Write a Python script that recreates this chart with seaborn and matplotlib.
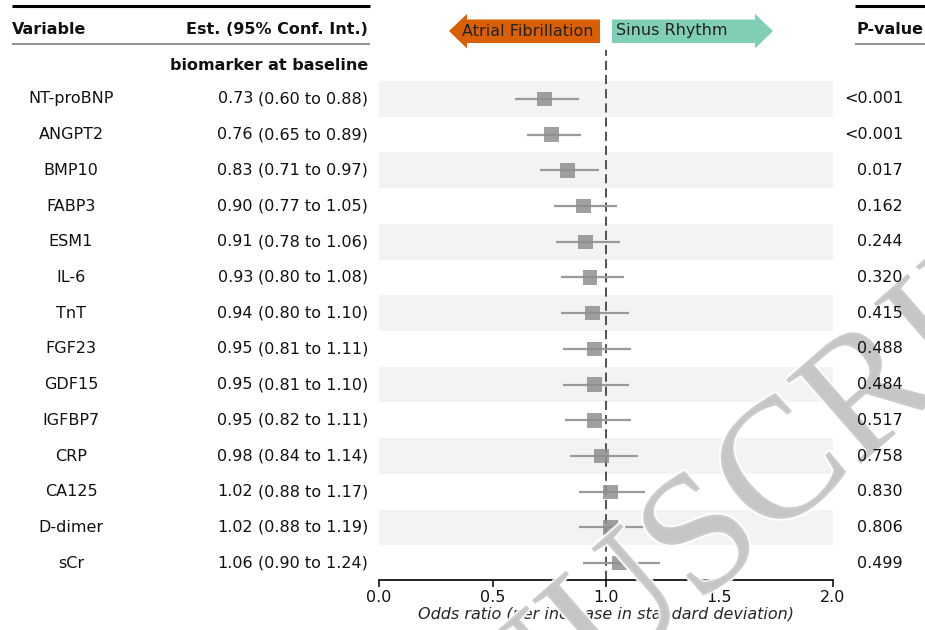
import numpy as np
import pandas as pd
import matplotlib
matplotlib.use("Agg")
import matplotlib.pyplot as plt
import matplotlib.transforms as mtransforms
import matplotlib.patheffects as pe
from matplotlib.patches import Polygon
import seaborn as sns

variables = ["NT-proBNP", "ANGPT2", "BMP10", "FABP3", "ESM1", "IL-6", "TnT",
             "FGF23", "GDF15", "IGFBP7", "CRP", "CA125", "D-dimer", "sCr"]
estimates = [0.73, 0.76, 0.83, 0.90, 0.91, 0.93, 0.94, 0.95, 0.95, 0.95, 0.98, 1.02, 1.02, 1.06]
ci_low = [0.60, 0.65, 0.71, 0.77, 0.78, 0.80, 0.80, 0.81, 0.81, 0.82, 0.84, 0.88, 0.88, 0.90]
ci_high = [0.88, 0.89, 0.97, 1.05, 1.06, 1.08, 1.10, 1.11, 1.10, 1.11, 1.14, 1.17, 1.19, 1.24]
p_values = ["<0.001", "<0.001", "0.017", "0.162", "0.244", "0.320", "0.415",
            "0.488", "0.484", "0.517", "0.758", "0.830", "0.806", "0.499"]
x_ticks = [0.0, 0.5, 1.0, 1.5, 2.0]

df = pd.DataFrame({"variable": variables, "est": estimates, "lo": ci_low,
                   "hi": ci_high, "p": p_values})
df["row"] = np.arange(len(df))

sns.set_theme(style="white")
plt.rcParams["font.family"] = ["DejaVu Sans"]
FS = 11.5

W, H = 925, 630
fig = plt.figure(figsize=(W / 100, H / 100), dpi=100)
ax = fig.add_axes([379 / W, 1 - 580 / H, (833 - 379) / W, (580 - 50) / H])

n = len(df)
ax.set_xlim(0, 2)
ax.set_ylim(13.47, -1.37)

# shaded bands
for i in range(0, n, 2):
    ax.axhspan(i - 0.5, i + 0.5, color="#f3f3f3", lw=0, zorder=0)

# reference line
ax.axvline(1.0, color="#333333", lw=1.2, ls=(0, (5.5, 3)), zorder=1)

# CI lines
ax.hlines(df["row"], df["lo"], df["hi"], color="#9a9a9a", lw=1.6, zorder=2)
sns.scatterplot(data=df, x="est", y="row", marker="s", s=110, color="#8f8f8f",
                alpha=0.85, edgecolor="none", ax=ax, zorder=3, legend=False)

ax.set_xticks(x_ticks)
ax.set_xticklabels([f"{t:.1f}" for t in x_ticks], fontsize=FS)
ax.set_yticks([])
ax.set_ylabel("")
ax.set_xlabel("Odds ratio (per increase in standard deviation)", fontsize=FS,
              style="italic", labelpad=2)
for s in ["top", "right", "left"]:
    ax.spines[s].set_visible(False)
ax.spines["bottom"].set_color("black")
ax.spines["bottom"].set_linewidth(1.2)
ax.tick_params(axis="x", direction="out", length=5, width=1.1, color="black",
               pad=2, bottom=True, labelcolor="#111111")
ax.patch.set_alpha(0)

# watermark (inside the main axes so table texts can sit above it)
ax.text(692 / W, 1 - 556 / H, "MANUSCRIPT", transform=fig.transFigure,
        fontsize=124, family="Liberation Serif", color="#c6c6c6", alpha=0.9,
        rotation=41, ha="center", va="center", rotation_mode="anchor", zorder=4,
        path_effects=[pe.withStroke(linewidth=3, foreground="white")])

# table text
tr = mtransforms.blended_transform_factory(fig.transFigure, ax.transData)
for _, r in df.iterrows():
    ax.text(71 / W, r["row"], r["variable"], transform=tr, ha="center", va="center",
            fontsize=FS, color="#111111", zorder=6)
    ax.text(253 / W, r["row"], f"{r['est']:.2f}", transform=tr, ha="right", va="center",
            fontsize=FS, color="#111111", zorder=6)
    ax.text(368 / W, r["row"], f"({r['lo']:.2f} to {r['hi']:.2f})", transform=tr,
            ha="right", va="center", fontsize=FS, color="#111111", zorder=6)
    ax.text(903 / W, r["row"], r["p"], transform=tr, ha="right", va="center",
            fontsize=FS, color="#111111", zorder=6)

# overlay axes in pixel coordinates for header decorations
ov = fig.add_axes([0, 0, 1, 1], zorder=5)
ov.set_xlim(0, W)
ov.set_ylim(H, 0)
ov.axis("off")
ov.patch.set_alpha(0)

ov.text(12, 29, "Variable", fontsize=FS, fontweight="bold", ha="left", va="center", color="#111111")
ov.text(368, 29, "Est. (95% Conf. Int.)", fontsize=FS, fontweight="bold", ha="right", va="center", color="#111111")
ov.text(368, 66, "biomarker at baseline", fontsize=FS, fontweight="bold", ha="right", va="center", color="#111111")
ov.text(857, 29, "P-value", fontsize=FS, fontweight="bold", ha="left", va="center", color="#111111")
ov.plot([12, 370], [6, 6], color="black", lw=2.2, solid_capstyle="butt")
ov.plot([12, 370], [44, 44], color="#888888", lw=1.3, solid_capstyle="butt")
ov.plot([855, 925], [6, 6], color="black", lw=2.2, solid_capstyle="butt")
ov.plot([855, 925], [44, 44], color="#888888", lw=1.3, solid_capstyle="butt")

# direction arrows
af = Polygon([[600, 19.5], [467, 19.5], [467, 14], [449, 31], [467, 48.5], [467, 43], [600, 43]],
             closed=True, facecolor="#d95f02", edgecolor="none")
sr = Polygon([[612, 19.5], [755, 19.5], [755, 14], [773, 31], [755, 48.5], [755, 43], [612, 43]],
             closed=True, facecolor="#80ceb6", edgecolor="none")
ov.add_patch(af)
ov.add_patch(sr)
ov.text(462, 31, "Atrial Fibrillation", fontsize=FS, ha="left", va="center", color="#222222")
ov.text(616, 31, "Sinus Rhythm", fontsize=FS, ha="left", va="center", color="#222222")

fig.savefig("out.png", dpi=100)
